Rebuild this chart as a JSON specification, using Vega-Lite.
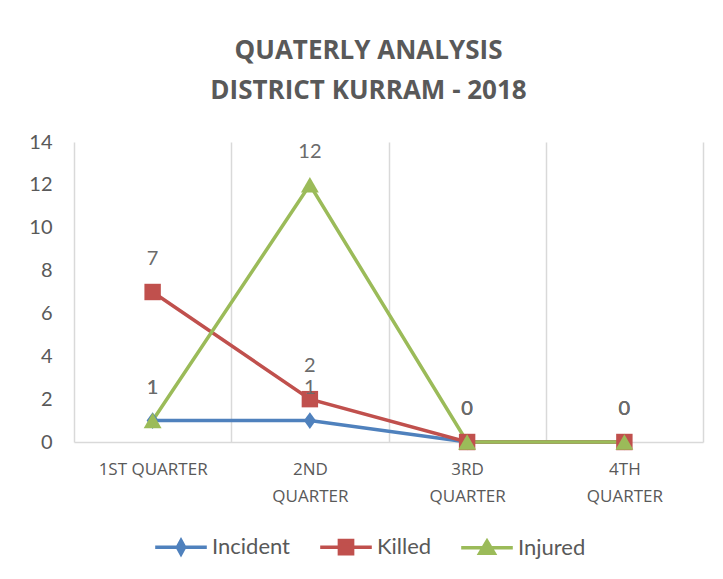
{
  "$schema": "https://vega.github.io/schema/vega-lite/v6.json",
  "width": 629,
  "height": 300,
  "autosize": "none",
  "padding": {"left": 74, "top": 142, "right": 20, "bottom": 137},
  "background": "white",
  "title": {
    "text": ["QUATERLY ANALYSIS", "DISTRICT KURRAM - 2018"],
    "anchor": "middle",
    "frame": "group",
    "dx": -20,
    "offset": 28,
    "font": "Open Sans",
    "fontSize": 26,
    "fontWeight": "bold",
    "color": "#595959",
    "lineHeight": 40
  },
  "config": {
    "view": {"stroke": null},
    "font": "Lato"
  },
  "data": {
    "values": [
      {"quarter": "1ST QUARTER", "series": "Incident", "count": 1},
      {"quarter": "2ND QUARTER", "series": "Incident", "count": 1},
      {"quarter": "3RD QUARTER", "series": "Incident", "count": 0},
      {"quarter": "4TH QUARTER", "series": "Incident", "count": 0},
      {"quarter": "1ST QUARTER", "series": "Killed", "count": 7},
      {"quarter": "2ND QUARTER", "series": "Killed", "count": 2},
      {"quarter": "3RD QUARTER", "series": "Killed", "count": 0},
      {"quarter": "4TH QUARTER", "series": "Killed", "count": 0},
      {"quarter": "1ST QUARTER", "series": "Injured", "count": 1},
      {"quarter": "2ND QUARTER", "series": "Injured", "count": 12},
      {"quarter": "3RD QUARTER", "series": "Injured", "count": 0},
      {"quarter": "4TH QUARTER", "series": "Injured", "count": 0}
    ]
  },
  "encoding": {
    "x": {
      "field": "quarter",
      "type": "nominal",
      "sort": null,
      "bandPosition": 0.5,
      "scale": {"type": "band", "paddingInner": 0, "paddingOuter": 0},
      "axis": {
        "title": null,
        "labelAngle": 0,
        "ticks": false,
        "domain": true,
        "domainColor": "#d9d9d9",
        "domainWidth": 1.5,
        "grid": true,
        "tickBand": "extent",
        "gridColor": "#d9d9d9",
        "gridWidth": 1.5,
        "labelFont": "Open Sans",
        "labelFontSize": 17,
        "labelColor": "#595959",
        "labelLineHeight": 27,
        "labelPadding": 19,
        "labelBaseline": "top",
        "labelExpr": "!isValid(datum.value) ? '' : datum.value === '1ST QUARTER' ? datum.value : split(datum.value, ' ')"
      }
    },
    "y": {
      "field": "count",
      "type": "quantitative",
      "scale": {"domain": [0, 14], "nice": false},
      "axis": {
        "title": null,
        "values": [0, 2, 4, 6, 8, 10, 12, 14],
        "domain": false,
        "ticks": false,
        "grid": false,
        "labelFont": "Lato",
        "labelFontSize": 20,
        "labelColor": "#595959",
        "labelPadding": 22
      }
    },
    "color": {
      "field": "series",
      "type": "nominal",
      "sort": ["Incident", "Killed", "Injured"],
      "scale": {
        "domain": ["Incident", "Killed", "Injured"],
        "range": ["#4F81BD", "#C0504D", "#9BBB59"]
      },
      "legend": {
        "title": null,
        "orient": "none",
        "direction": "horizontal",
        "legendX": 96,
        "legendY": 394,
        "padding": 0,
        "labelFont": "Lato",
        "labelFontSize": 22,
        "labelColor": "#595959",
        "symbolSize": 144,
        "symbolStrokeWidth": 3.5,
        "labelOffset": 20,
        "columnPadding": 22,
        "encode": {
          "symbols": {
            "update": {
              "shape": {"signal": "datum.value === 'Incident' ? 'M-4.3,0H4.3M0,-1.1L0.6,0L0,1.1L-0.6,0Z' : datum.value === 'Killed' ? 'M-4.3,0H4.3M-1.1,-1.1H1.1V1.1H-1.1Z' : 'M-4.3,0H4.3M0,-1.1L1.2,0.9L-1.2,0.9Z'"},
              "fill": {"signal": "scale('color', datum.value)"},
              "stroke": {"signal": "scale('color', datum.value)"},
              "strokeWidth": {"value": 3.5},
              "opacity": {"value": 1},
              "fillOpacity": {"value": 1}
            }
          }
        }
      }
    }
  },
  "layer": [
    {
      "mark": {"type": "line", "strokeWidth": 3.5},
      "encoding": {}
    },
    {
      "transform": [{"filter": "datum.series === 'Incident'"}],
      "mark": {"type": "point", "filled": true, "opacity": 1, "size": 280, "shape": "M0,-1L0.72,0L0,1L-0.72,0Z"},
      "encoding": {}
    },
    {
      "transform": [{"filter": "datum.series === 'Killed'"}],
      "mark": {"type": "point", "filled": true, "opacity": 1, "size": 270, "shape": "square"},
      "encoding": {}
    },
    {
      "transform": [{"filter": "datum.series === 'Injured'"}],
      "mark": {"type": "point", "filled": true, "opacity": 1, "size": 320, "shape": "triangle-up"},
      "encoding": {}
    },
    {
      "mark": {"type": "text", "dy": -33, "fontSize": 20, "font": "Lato"},
      "encoding": {
        "text": {"field": "count", "type": "quantitative"},
        "color": {"value": "#6b6b6b"}
      }
    }
  ]
}
